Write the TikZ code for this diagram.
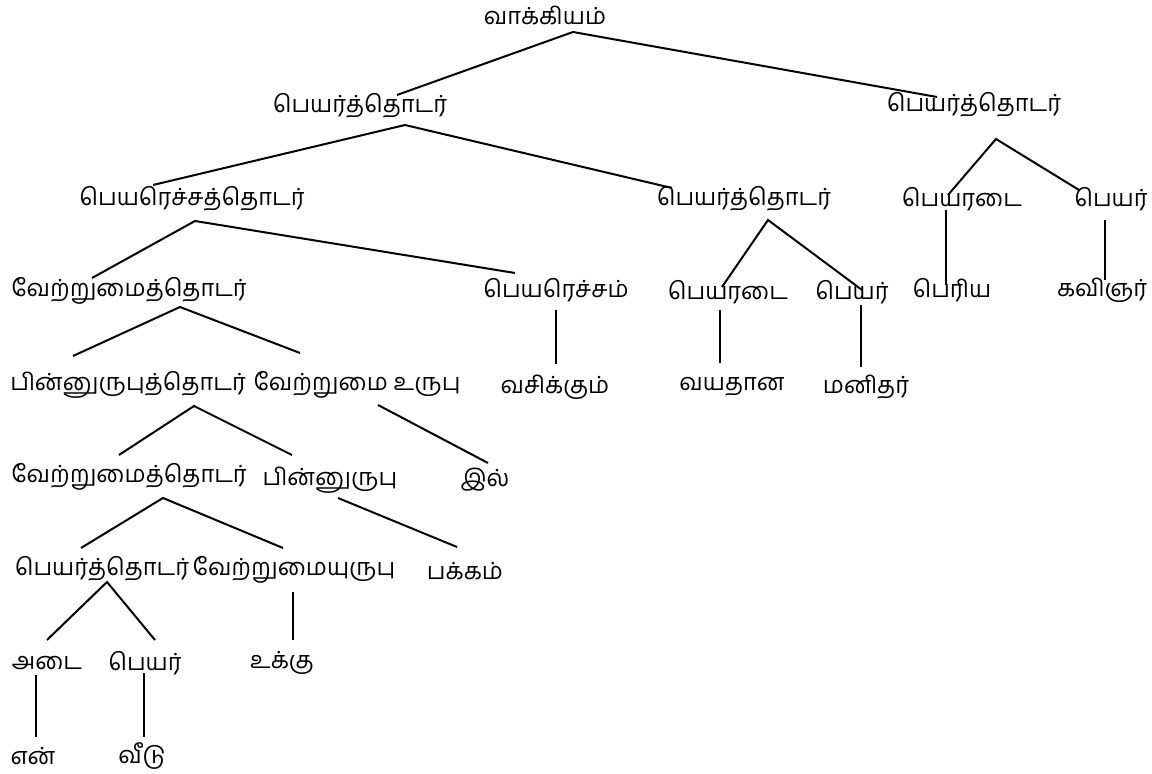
\documentclass[tikz,border=0pt]{standalone}
\usepackage{fontspec}
\newfontfamily\tamil[Script=Tamil]{Hind Madurai}
\usepackage{tikz}

\begin{document}
\begin{tikzpicture}[x=0.5pt, y=-0.5pt, line width=1pt,
    lbl/.style={font=\tamil\fontsize{11.8}{14}\selectfont, inner sep=0pt}]
    \useasboundingbox (0,0) rectangle (1152,774);

    % Words, row by row
    \node[lbl] (s) at (545,15) {வாக்கியம்};

    \node[lbl] (npA) at (360,106) {பெயர்த்தொடர்};
    \node[lbl] (npB) at (974,105) {பெயர்த்தொடர்};

    \node[lbl] (relp) at (192,199) {பெயரெச்சத்தொடர்};
    \node[lbl] (npC) at (744,199) {பெயர்த்தொடர்};
    \node[lbl] (adjB) at (962,199) {பெயரடை};
    \node[lbl] (nounB) at (1111,199) {பெயர்};

    \node[lbl] (casepA) at (129,291) {வேற்றுமைத்தொடர்};
    \node[lbl] (rel) at (556,290) {பெயரெச்சம்};
    \node[lbl] (adjC) at (728,292) {பெயரடை};
    \node[lbl] (nounC) at (852,292) {பெயர்};
    \node[lbl] (periya) at (952,290) {பெரிய};
    \node[lbl] (kavignar) at (1102,290) {கவிஞர்};

    \node[lbl] (postp) at (128,385) {பின்னுருபுத்தொடர்};
    \node[lbl] (caseA) at (357,385) {வேற்றுமை உருபு};
    \node[lbl] (vasikkum) at (555,387) {வசிக்கும்};
    \node[lbl] (vayathana) at (732,387) {வயதான};
    \node[lbl] (manithar) at (866,387) {மனிதர்};

    \node[lbl] (casepB) at (129,477) {வேற்றுமைத்தொடர்};
    \node[lbl] (post) at (330,480) {பின்னுருபு};
    \node[lbl] (il) at (485,480) {இல்};

    \node[lbl] (npD) at (102,569) {பெயர்த்தொடர்};
    \node[lbl] (caseB) at (294,570) {வேற்றுமையுருபு};
    \node[lbl] (pakkam) at (465,571) {பக்கம்};

    \node[lbl] (adjD) at (47,663) {அடை};
    \node[lbl] (nounD) at (145,663) {பெயர்};
    \node[lbl] (ukku) at (282,663) {உக்கு};

    \node[lbl] (en) at (33,756) {என்};
    \node[lbl] (veedu) at (142,756) {வீடு};

    % Branches
    \draw ([shift={(37,-11)}]npA.center) -- ([shift={(28,17)}]s.center) -- ([shift={(-37,-8)}]npB.center);
    \draw ([shift={(-39,-14)}]relp.center) -- ([shift={(45,19)}]npA.center) -- ([shift={(-72,-11)}]npC.center);
    \draw ([shift={(-14,-4)}]adjB.center) -- ([shift={(22,34)}]npB.center) -- ([shift={(-32,-9)}]nounB.center);
    \draw ([shift={(-37,-13)}]casepA.center) -- ([shift={(3,22)}]relp.center) -- ([shift={(-41,-17)}]rel.center);
    \draw ([shift={(-6,-5)}]adjC.center) -- ([shift={(24,21)}]npC.center) -- ([shift={(10,-2)}]nounC.center);
    \draw ([shift={(-55,-29)}]postp.center) -- ([shift={(51,16)}]casepA.center) -- ([shift={(-57,-32)}]caseA.center);
    \draw ([shift={(-10,-22)}]casepB.center) -- ([shift={(66,21)}]postp.center) -- ([shift={(-38,-25)}]post.center);
    \draw ([shift={(-21,-21)}]npD.center) -- ([shift={(34,21)}]casepB.center) -- ([shift={(-11,-22)}]caseB.center);
    \draw ([shift={(0,-23)}]adjD.center) -- ([shift={(5,13)}]npD.center) -- ([shift={(10,-23)}]nounD.center);

    % Single children
    \draw ([shift={(21,20)}]caseA.center) -- ([shift={(3,-17)}]il.center);
    \draw ([shift={(8,18)}]post.center) -- ([shift={(-8,-24)}]pakkam.center);
    \draw ([shift={(-16,11)}]adjB.center) -- ([shift={(-6,-5)}]periya.center);
    \draw ([shift={(-6,21)}]nounB.center) -- ([shift={(3,-10)}]kavignar.center);
    \draw ([shift={(0,20)}]rel.center) -- ([shift={(1,-23)}]vasikkum.center);
    \draw ([shift={(-8,18)}]adjC.center) -- ([shift={(-12,-24)}]vayathana.center);
    \draw ([shift={(9,13)}]nounC.center) -- ([shift={(-5,-20)}]manithar.center);
    \draw ([shift={(-1,22)}]caseB.center) -- ([shift={(11,-23)}]ukku.center);
    \draw ([shift={(-11,12)}]adjD.center) -- ([shift={(3,-19)}]en.center);
    \draw ([shift={(-1,10)}]nounD.center) -- ([shift={(2,-19)}]veedu.center);
\end{tikzpicture}
\end{document}
